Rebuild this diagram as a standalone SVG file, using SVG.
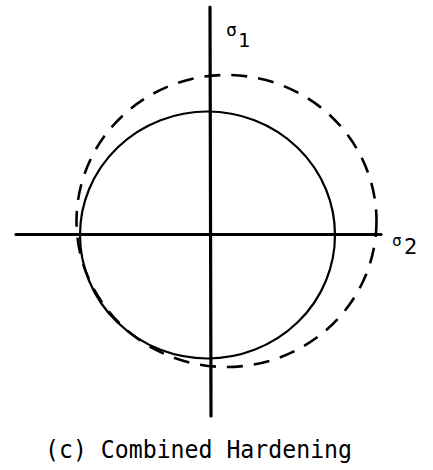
<svg xmlns="http://www.w3.org/2000/svg" width="433" height="470" viewBox="0 0 433 470">
<style>
.axis{stroke:#000;stroke-width:3.2;stroke-linecap:round;fill:none}
.solid{stroke:#000;stroke-width:2.2;fill:none}
.dash{stroke:#000;stroke-width:2.6;fill:none;stroke-dasharray:16 11}
.lbl{font-family:"DejaVu Sans Mono","Liberation Mono",monospace;fill:#000}
</style>
<rect width="433" height="470" fill="#fff"/>
<g id="axes">
<line class="axis" x1="210" y1="7" x2="211" y2="416"/>
<line class="axis" x1="16" y1="234.5" x2="381" y2="234.5"/>
</g>
<g id="initial-yield-surface">
<ellipse class="solid" cx="207.5" cy="235" rx="127.5" ry="123.5"/>
</g>
<g id="hardened-yield-surface">
<ellipse class="dash" cx="226.5" cy="221" rx="150" ry="146"/>
</g>
<g id="labels">
<text class="lbl" x="226" y="36" font-size="18">σ</text>
<text class="lbl" x="238" y="47" font-size="20">1</text>
<text class="lbl" x="392" y="246" font-size="16">σ</text>
<text class="lbl" x="404" y="254" font-size="22">2</text>
<text class="lbl" x="45" y="458" font-size="24" textLength="307" lengthAdjust="spacingAndGlyphs">(c) Combined Hardening</text>
</g>
</svg>
